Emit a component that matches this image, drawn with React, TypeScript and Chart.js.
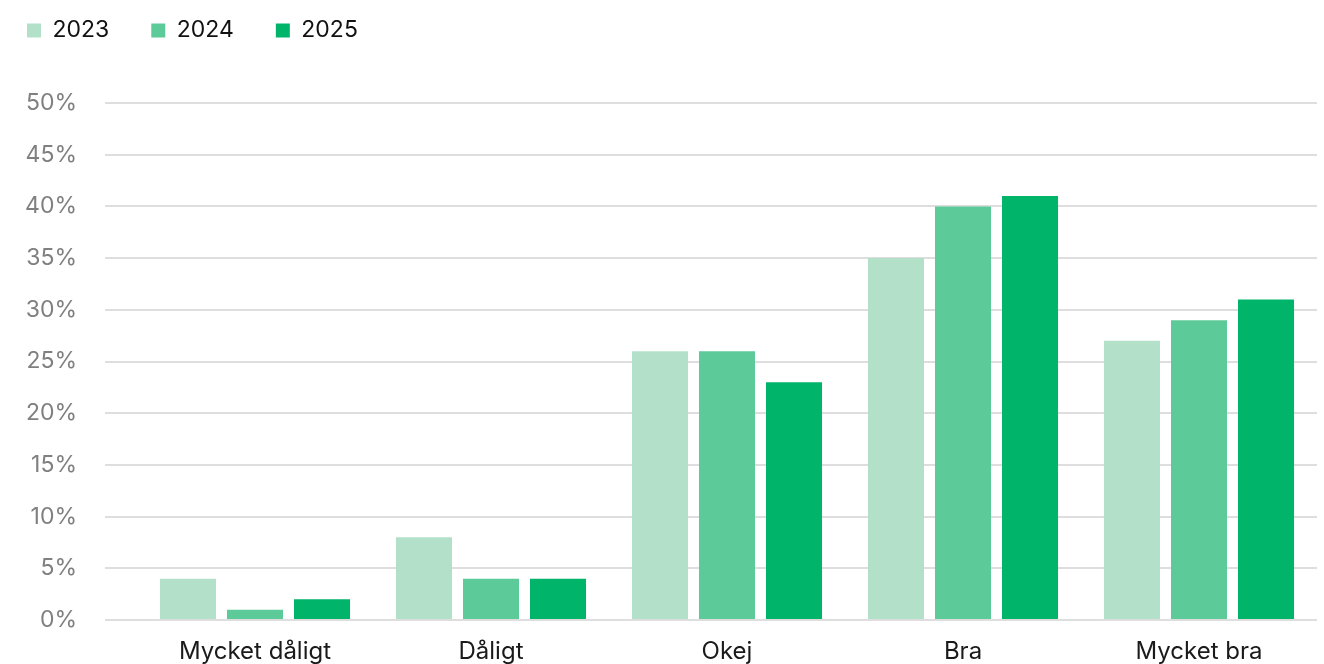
import { useEffect, useRef } from "react";
import { Chart, registerables } from "chart.js";

Chart.register(...registerables);

const categories = ["Mycket dåligt", "Dåligt", "Okej", "Bra", "Mycket bra"];
const seriesLabels = ["2023", "2024", "2025"];
const values2023 = [4, 8, 26, 35, 27];
const values2024 = [1, 4, 26, 40, 29];
const values2025 = [2, 4, 23, 41, 31];
const seriesColors = ["#b3e0c8", "#5dcb99", "#00b46a"];
const yMin = 0;
const yMax = 50;
const yStep = 5;

const FONT = 'Inter, "Noto Sans", "DejaVu Sans", sans-serif';
const LEGEND_PAD = 42;

const legendMargin = {
  id: "legendMargin",
  beforeInit(chart: any) {
    const legend = chart.legend;
    if (!legend) return;
    const origFit = legend.fit;
    legend.fit = function fit() {
      origFit.call(this);
      this.height += 51;
    };
  },
};

export default function App() {
  const ref = useRef<HTMLCanvasElement | null>(null);

  useEffect(() => {
    if (!ref.current) return;
    const seriesValues = [values2023, values2024, values2025];
    const chart = new Chart(ref.current, {
      type: "bar",
      data: {
        labels: categories,
        datasets: seriesLabels.map((label, i) => ({
          label,
          data: seriesValues[i],
          backgroundColor: seriesColors[i],
          borderWidth: 0,
          barPercentage: 0.836,
          categoryPercentage: 0.852,
        })),
      },
      options: {
        responsive: false,
        animation: false,
        devicePixelRatio: 1,
        layout: { padding: 0 },
        plugins: {
          legend: {
            position: "top",
            align: "start",
            labels: {
              boxWidth: 14,
              boxHeight: 14,
              padding: LEGEND_PAD,
              color: "#111111",
              font: { size: 23, family: FONT },
            },
          },
          tooltip: { enabled: false },
        },
        scales: {
          x: {
            grid: { display: false, drawTicks: false },
            border: { display: false },
            ticks: {
              color: "#1a1a1a",
              font: { size: 24, family: FONT },
              padding: 17,
              maxRotation: 0,
              autoSkip: false,
            },
            afterFit(scale: any) {
              scale.height = 50;
            },
          },
          y: {
            min: yMin,
            max: yMax,
            border: { display: false },
            grid: {
              color: "#dedede",
              lineWidth: 2,
              drawTicks: true,
              tickLength: 32,
            },
            ticks: {
              stepSize: yStep,
              color: "#808080",
              font: { size: 23, family: FONT },
              padding: 28,
              callback: (v: any) => `${v}%`,
            },
            afterFit(scale: any) {
              scale.width = 152;
            },
          },
        },
      },
      plugins: [legendMargin],
    });
    return () => chart.destroy();
  }, []);

  return (
    <div
      style={{
        position: "fixed",
        left: 0,
        top: 0,
        width: 1324,
        height: 664,
        overflow: "hidden",
        background: "#ffffff",
      }}
    >
      <canvas
        ref={ref}
        width={1332}
        height={693}
        style={{
          position: "absolute",
          left: -15,
          top: -23,
          width: 1332,
          height: 693,
          display: "block",
        }}
      />
    </div>
  );
}
